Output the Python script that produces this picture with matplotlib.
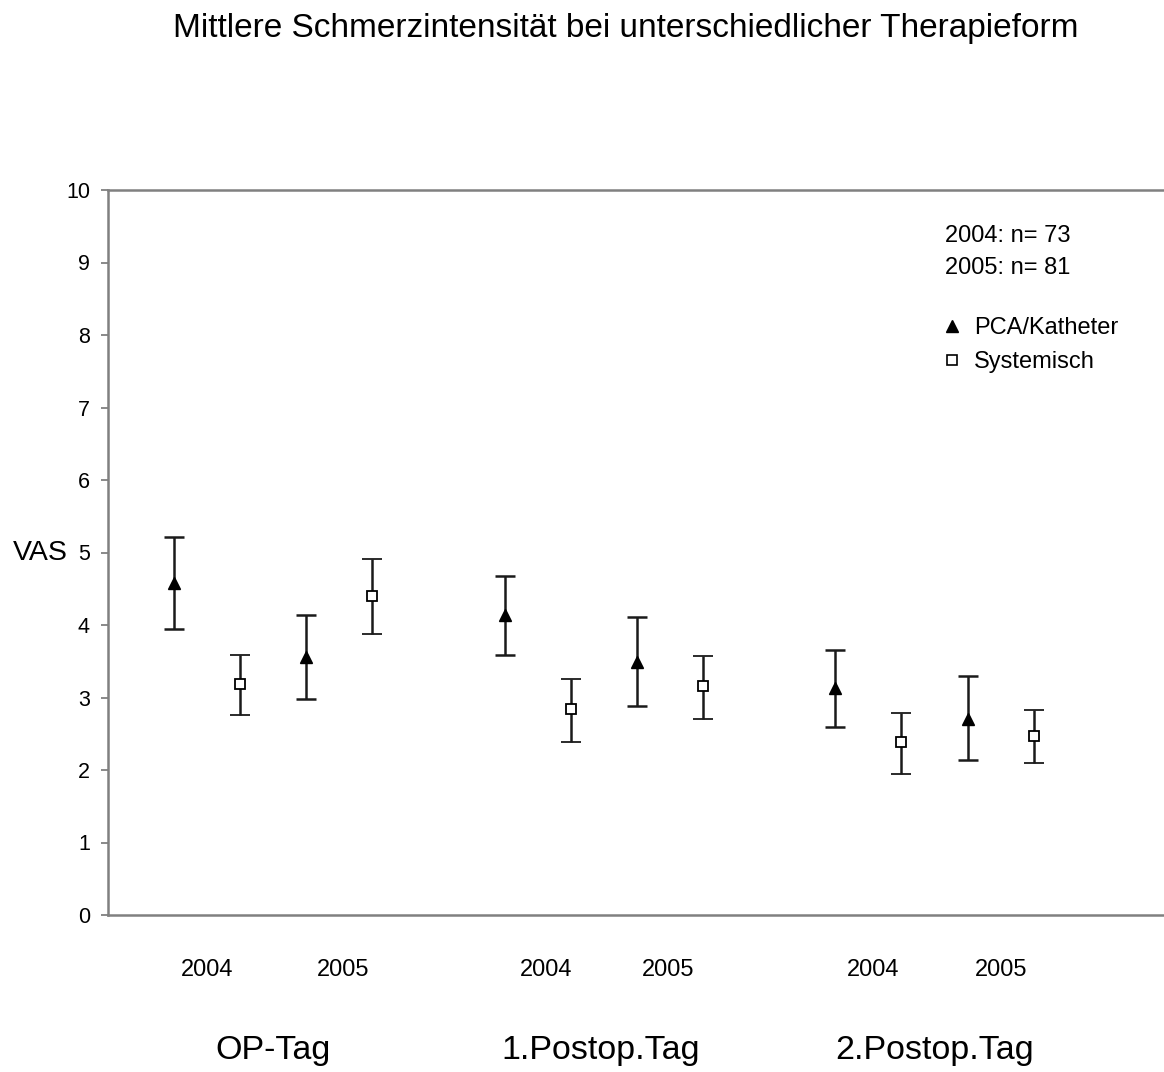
import matplotlib
matplotlib.use("Agg")
import matplotlib.pyplot as plt
from matplotlib.lines import Line2D

plt.rcParams['font.family'] = ['Liberation Sans', 'DejaVu Sans']

# ---- data ----
groups = ["OP-Tag", "1.Postop.Tag", "2.Postop.Tag"]
years = ["2004", "2005", "2004", "2005", "2004", "2005"]
series_names = ["PCA/Katheter", "Systemisch"]
sample_info = ["2004: n= 73", "2005: n= 81"]

# positions of the points along the x axis (1-4, 6-9, 11-14)
pca_pos = [1, 3, 6, 8, 11, 13]
sys_pos = [2, 4, 7, 9, 12, 14]

pca_mean = [4.58, 3.56, 4.14, 3.49, 3.13, 2.71]
pca_upper = [5.21, 4.14, 4.68, 4.11, 3.65, 3.30]
pca_lower = [3.94, 2.98, 3.59, 2.88, 2.60, 2.14]

sys_mean = [3.19, 4.40, 2.84, 3.16, 2.38, 2.47]
sys_upper = [3.59, 4.91, 3.25, 3.57, 2.78, 2.83]
sys_lower = [2.76, 3.87, 2.38, 2.70, 1.94, 2.09]

year_label_pos = [1.5, 3.56, 6.63, 8.47, 11.57, 13.5]
group_label_pos = [2.5, 7.45, 12.5]

# ---- figure ----
fig = plt.figure(figsize=(11.64, 10.72), dpi=100)
ax = fig.add_axes([108 / 1164, (1072 - 915) / 1072, 1 - 108 / 1164, (915 - 190) / 1072])

def errs(mean, up, lo):
    return [[m - l for m, l in zip(mean, lo)], [u - m for u, m in zip(up, mean)]]

ebc = "#1a1a1a"
ax.errorbar(pca_pos, pca_mean, yerr=errs(pca_mean, pca_upper, pca_lower),
            fmt='^', color='black', ms=9, ecolor=ebc, elinewidth=1.8,
            capsize=7, capthick=1.8, zorder=3)
ax.errorbar(sys_pos, sys_mean, yerr=errs(sys_mean, sys_upper, sys_lower),
            fmt='s', mfc='white', mec='black', mew=1.3, ms=7, ecolor=ebc,
            elinewidth=1.8, capsize=7, capthick=1.8, zorder=3)

ax.set_xlim(0, 15.97)
ax.set_ylim(0, 10)
ax.set_yticks(range(0, 11))
ax.set_xticks([])
ax.tick_params(axis='y', direction='out', length=5, width=1.3, color='#808080',
               labelsize=15.5, pad=8)
for s in ['left', 'top', 'bottom']:
    ax.spines[s].set_color('#808080')
    ax.spines[s].set_linewidth(1.8)
ax.spines['right'].set_visible(False)

ax.text(-0.0645, 0.5, "VAS", transform=ax.transAxes, ha='center', va='center', fontsize=20.5)

# year labels
for p, t in zip(year_label_pos, years):
    ax.text(p, -0.76, t, ha='center', va='center', fontsize=17)
# group labels
for p, t in zip(group_label_pos, groups):
    ax.text(p, -1.87, t, ha='center', va='center', fontsize=24.5)

# sample info
for i, t in enumerate(sample_info):
    ax.text(12.66, 9.36 - i * 0.44, t, ha='left', va='center', fontsize=17)

handles = [
    Line2D([], [], marker='^', color='black', ls='none', ms=8),
    Line2D([], [], marker='s', mfc='white', mec='black', mew=1.2, ls='none', ms=6.5),
]
ax.legend(handles, series_names, loc='upper left',
          bbox_to_anchor=(940 / 1164, 1 - 317 / 1072), bbox_transform=fig.transFigure,
          frameon=False, fontsize=17, handletextpad=0.45, handlelength=1.0,
          labelspacing=0.5, borderpad=0, borderaxespad=0)

fig.text(626 / 1164, 1 - 29 / 1072, "Mittlere Schmerzintensität bei unterschiedlicher Therapieform",
         ha='center', va='center', fontsize=24)

fig.savefig("out.png", dpi=100, facecolor='white')
